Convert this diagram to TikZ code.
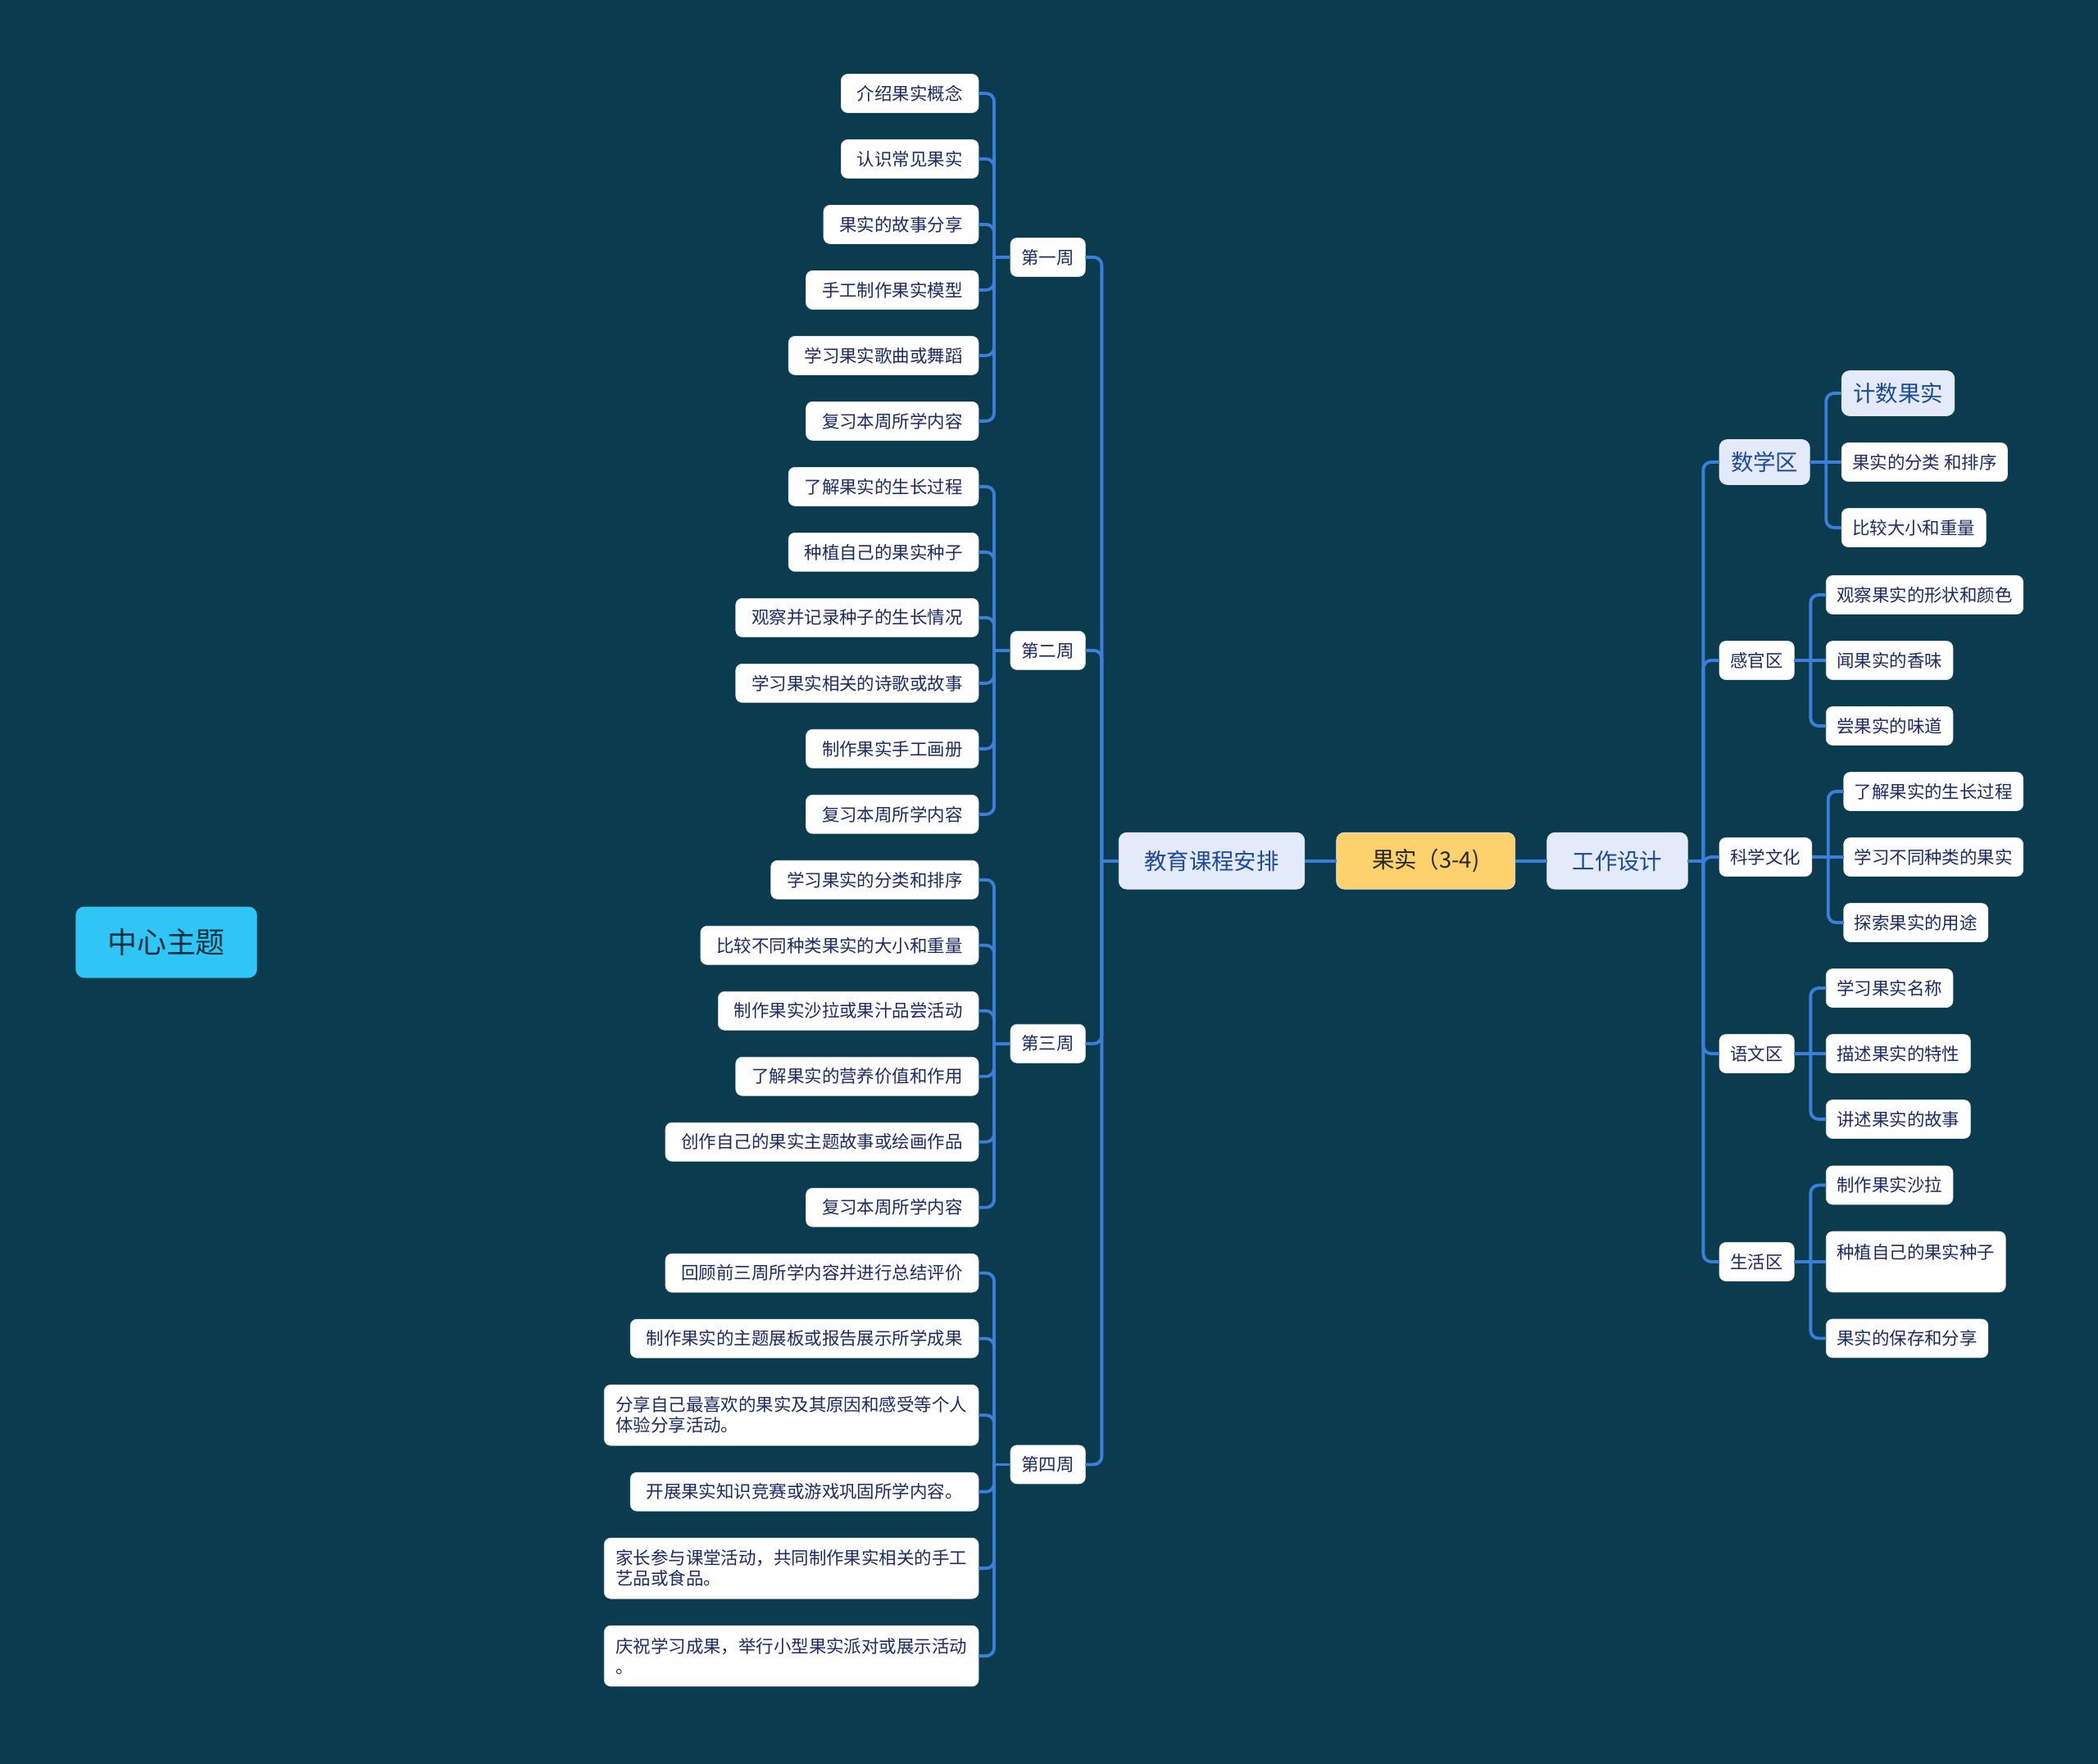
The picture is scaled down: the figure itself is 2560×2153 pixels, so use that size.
\documentclass[tikz,border=0pt]{standalone}
\usepackage{fontspec}
\newfontfamily\cjk{Noto Sans CJK SC}
\usetikzlibrary{positioning,calc}
\definecolor{bgteal}{HTML}{0A3B4F}
\definecolor{linkblue}{HTML}{3B7FDA}
\definecolor{inkblue}{HTML}{1C2B62}
\definecolor{lavender}{HTML}{E3EAFA}
\definecolor{deepblue}{HTML}{1D4A9A}
\definecolor{mango}{HTML}{FDD26C}
\definecolor{skyblue}{HTML}{2FC5F4}
\begin{document}
\begin{tikzpicture}[x=0.02cm,y=-0.02cm,font=\cjk,
  leaf/.style={rectangle,rounded corners=4.5pt,draw=black!10,fill=white,text=inkblue,inner xsep=0.39cm,inner ysep=0pt,outer sep=0pt,minimum height=0.94cm,font=\cjk\fontsize{12.2}{14.2}\selectfont},
  leafx/.style={leaf,align=left,minimum height=1.48cm,inner xsep=0.28cm},
  rleaf/.style={leaf,inner xsep=0.26cm},
  rleafx/.style={leafx,inner xsep=0.26cm},
  tag/.style={leaf,inner xsep=0.27cm},
  main/.style={rectangle,rounded corners=5.5pt,draw=black!10,fill=lavender,text=deepblue,inner xsep=0.62cm,outer sep=0pt,minimum height=1.38cm,font=\cjk\fontsize{15.6}{18}\selectfont},
  tagm/.style={main,inner xsep=0.28cm,minimum height=1.1cm},
  core/.style={main,fill=mango,text=black!85,minimum width=4.36cm},
  topic/.style={rectangle,rounded corners=6pt,fill=skyblue,text=bgteal!80!black,inner xsep=0.78cm,minimum height=1.74cm,font=\cjk\fontsize{20.4}{24}\selectfont},
  link/.style={linkblue,line width=2.2pt,rounded corners=5.5pt}]
\useasboundingbox[fill=bgteal] (0,0) rectangle (2560,2153);
\node[topic](ct) at (203,1150){中心主题};
% left column: weekly activities
\node[leaf,anchor=north east](a1) at (1194,90.5){介绍果实概念};
\node[leaf,below=0.66cm of a1.south east,anchor=north east](a2){认识常见果实};
\node[leaf,below=0.66cm of a2.south east,anchor=north east](a3){果实的故事分享};
\node[leaf,below=0.66cm of a3.south east,anchor=north east](a4){手工制作果实模型};
\node[leaf,below=0.66cm of a4.south east,anchor=north east](a5){学习果实歌曲或舞蹈};
\node[leaf,below=0.66cm of a5.south east,anchor=north east](a6){复习本周所学内容};
\node[leaf,below=0.66cm of a6.south east,anchor=north east](a7){了解果实的生长过程};
\node[leaf,below=0.66cm of a7.south east,anchor=north east](a8){种植自己的果实种子};
\node[leaf,below=0.66cm of a8.south east,anchor=north east](a9){观察并记录种子的生长情况};
\node[leaf,below=0.66cm of a9.south east,anchor=north east](a10){学习果实相关的诗歌或故事};
\node[leaf,below=0.66cm of a10.south east,anchor=north east](a11){制作果实手工画册};
\node[leaf,below=0.66cm of a11.south east,anchor=north east](a12){复习本周所学内容};
\node[leaf,below=0.66cm of a12.south east,anchor=north east](a13){学习果实的分类和排序};
\node[leaf,below=0.66cm of a13.south east,anchor=north east](a14){比较不同种类果实的大小和重量};
\node[leaf,below=0.66cm of a14.south east,anchor=north east](a15){制作果实沙拉或果汁品尝活动};
\node[leaf,below=0.66cm of a15.south east,anchor=north east](a16){了解果实的营养价值和作用};
\node[leaf,below=0.66cm of a16.south east,anchor=north east](a17){创作自己的果实主题故事或绘画作品};
\node[leaf,below=0.66cm of a17.south east,anchor=north east](a18){复习本周所学内容};
\node[leaf,below=0.66cm of a18.south east,anchor=north east](a19){回顾前三周所学内容并进行总结评价};
\node[leaf,below=0.66cm of a19.south east,anchor=north east](a20){制作果实的主题展板或报告展示所学成果};
\node[leafx,below=0.66cm of a20.south east,anchor=north east](a21){分享自己最喜欢的果实及其原因和感受等个人\\体验分享活动。};
\node[leaf,below=0.66cm of a21.south east,anchor=north east](a22){开展果实知识竞赛或游戏巩固所学内容。};
\node[leafx,below=0.66cm of a22.south east,anchor=north east](a23){家长参与课堂活动，共同制作果实相关的手工\\艺品或食品。};
\node[leafx,below=0.66cm of a23.south east,anchor=north east](a24){庆祝学习成果，举行小型果实派对或展示活动\\。};
\node[tag,anchor=west](w1) at ($(a1.east)!0.5!(a6.east)+(39,0)$){第一周};
\node[tag,anchor=west](w2) at ($(a7.east)!0.5!(a12.east)+(39,0)$){第二周};
\node[tag,anchor=west](w3) at ($(a13.east)!0.5!(a18.east)+(39,0)$){第三周};
\node[tag,anchor=west](w4) at ($(a19.east)!0.5!(a24.east)+(39,0)$){第四周};
% middle row
\node[main,anchor=west](edu) at ($(w1.east)!0.5!(w4.east)+(41,0)$){教育课程安排};
\node[core,right=0.78cm of edu](fruit){果实（3-4)};
\node[main,right=0.78cm of fruit](work){工作设计};
% right column: work areas
\node[tagm,anchor=west](z1) at (2098,564){数学区};
\node[tag,anchor=west](z2) at (2098,806){感官区};
\node[tag,anchor=west](z3) at (2098,1046){科学文化};
\node[tag,anchor=west](z4) at (2098,1286){语文区};
\node[tag,anchor=west](z5) at (2098,1540){生活区};
\node[rleaf,right=0.78cm of z1](m2){果实的分类 和排序};
\node[tagm,above=0.66cm of m2.north west,anchor=south west](m1){计数果实};
\node[rleaf,below=0.66cm of m2.south west,anchor=north west](m3){比较大小和重量};
\node[rleaf,right=0.78cm of z2](s2){闻果实的香味};
\node[rleaf,above=0.66cm of s2.north west,anchor=south west](s1){观察果实的形状和颜色};
\node[rleaf,below=0.66cm of s2.south west,anchor=north west](s3){尝果实的味道};
\node[rleaf,right=0.78cm of z3](k2){学习不同种类的果实};
\node[rleaf,above=0.66cm of k2.north west,anchor=south west](k1){了解果实的生长过程};
\node[rleaf,below=0.66cm of k2.south west,anchor=north west](k3){探索果实的用途};
\node[rleaf,right=0.78cm of z4](y2){描述果实的特性};
\node[rleaf,above=0.66cm of y2.north west,anchor=south west](y1){学习果实名称};
\node[rleaf,below=0.66cm of y2.south west,anchor=north west](y3){讲述果实的故事};
\node[rleafx,right=0.78cm of z5](l2){种植自己的果实种子\\~};
\node[rleaf,above=0.66cm of l2.north west,anchor=south west](l1){制作果实沙拉};
\node[rleaf,below=0.66cm of l2.south west,anchor=north west](l3){果实的保存和分享};
% connectors
\coordinate[left=0.4cm of w1](j1);\coordinate[left=0.4cm of w2](j2);
\coordinate[left=0.4cm of w3](j3);\coordinate[left=0.4cm of w4](j4);
\draw[link](w1)--(j1);\draw[link](w2)--(j2);\draw[link](w3)--(j3);\draw[link](w4)--(j4);
\draw[link](a1.east)-|(j1);\draw[link](a2.east)-|(j1);\draw[link](a3.east)-|(j1);
\draw[link](a4.east)-|(j1);\draw[link](a5.east)-|(j1);\draw[link](a6.east)-|(j1);
\draw[link](a7.east)-|(j2);\draw[link](a8.east)-|(j2);\draw[link](a9.east)-|(j2);
\draw[link](a10.east)-|(j2);\draw[link](a11.east)-|(j2);\draw[link](a12.east)-|(j2);
\draw[link](a13.east)-|(j3);\draw[link](a14.east)-|(j3);\draw[link](a15.east)-|(j3);
\draw[link](a16.east)-|(j3);\draw[link](a17.east)-|(j3);\draw[link](a18.east)-|(j3);
\draw[link](a19.east)-|(j4);\draw[link](a20.east)-|(j4);\draw[link](a21.east)-|(j4);
\draw[link](a22.east)-|(j4);\draw[link](a23.east)-|(j4);\draw[link](a24.east)-|(j4);
\coordinate[left=0.42cm of edu](jl);
\draw[link](edu)--(jl);
\draw[link](w1.east)-|(jl);\draw[link](w2.east)-|(jl);\draw[link](w3.east)-|(jl);\draw[link](w4.east)-|(jl);
\draw[link](edu)--(fruit);\draw[link](fruit)--(work);
\coordinate[right=0.38cm of work](jr);
\draw[link](work)--(jr);
\draw[link](z1.west)-|(jr);\draw[link](z2.west)-|(jr);\draw[link](z3.west)-|(jr);
\draw[link](z4.west)-|(jr);\draw[link](z5.west)-|(jr);
\coordinate[right=0.4cm of z1](jm);\coordinate[right=0.4cm of z2](js);\coordinate[right=0.4cm of z3](jk);
\coordinate[right=0.4cm of z4](jy);\coordinate[right=0.4cm of z5](jh);
\draw[link](z1)--(jm);\draw[link](z2)--(js);\draw[link](z3)--(jk);\draw[link](z4)--(jy);\draw[link](z5)--(jh);
\draw[link](m1.west)-|(jm);\draw[link](m2.west)--(m2.west-|jm);\draw[link](m3.west)-|(jm);
\draw[link](s1.west)-|(js);\draw[link](s2.west)--(s2.west-|js);\draw[link](s3.west)-|(js);
\draw[link](k1.west)-|(jk);\draw[link](k2.west)--(k2.west-|jk);\draw[link](k3.west)-|(jk);
\draw[link](y1.west)-|(jy);\draw[link](y2.west)--(y2.west-|jy);\draw[link](y3.west)-|(jy);
\draw[link](l1.west)-|(jh);\draw[link](l2.west)--(l2.west-|jh);\draw[link](l3.west)-|(jh);
\end{tikzpicture}
\end{document}
